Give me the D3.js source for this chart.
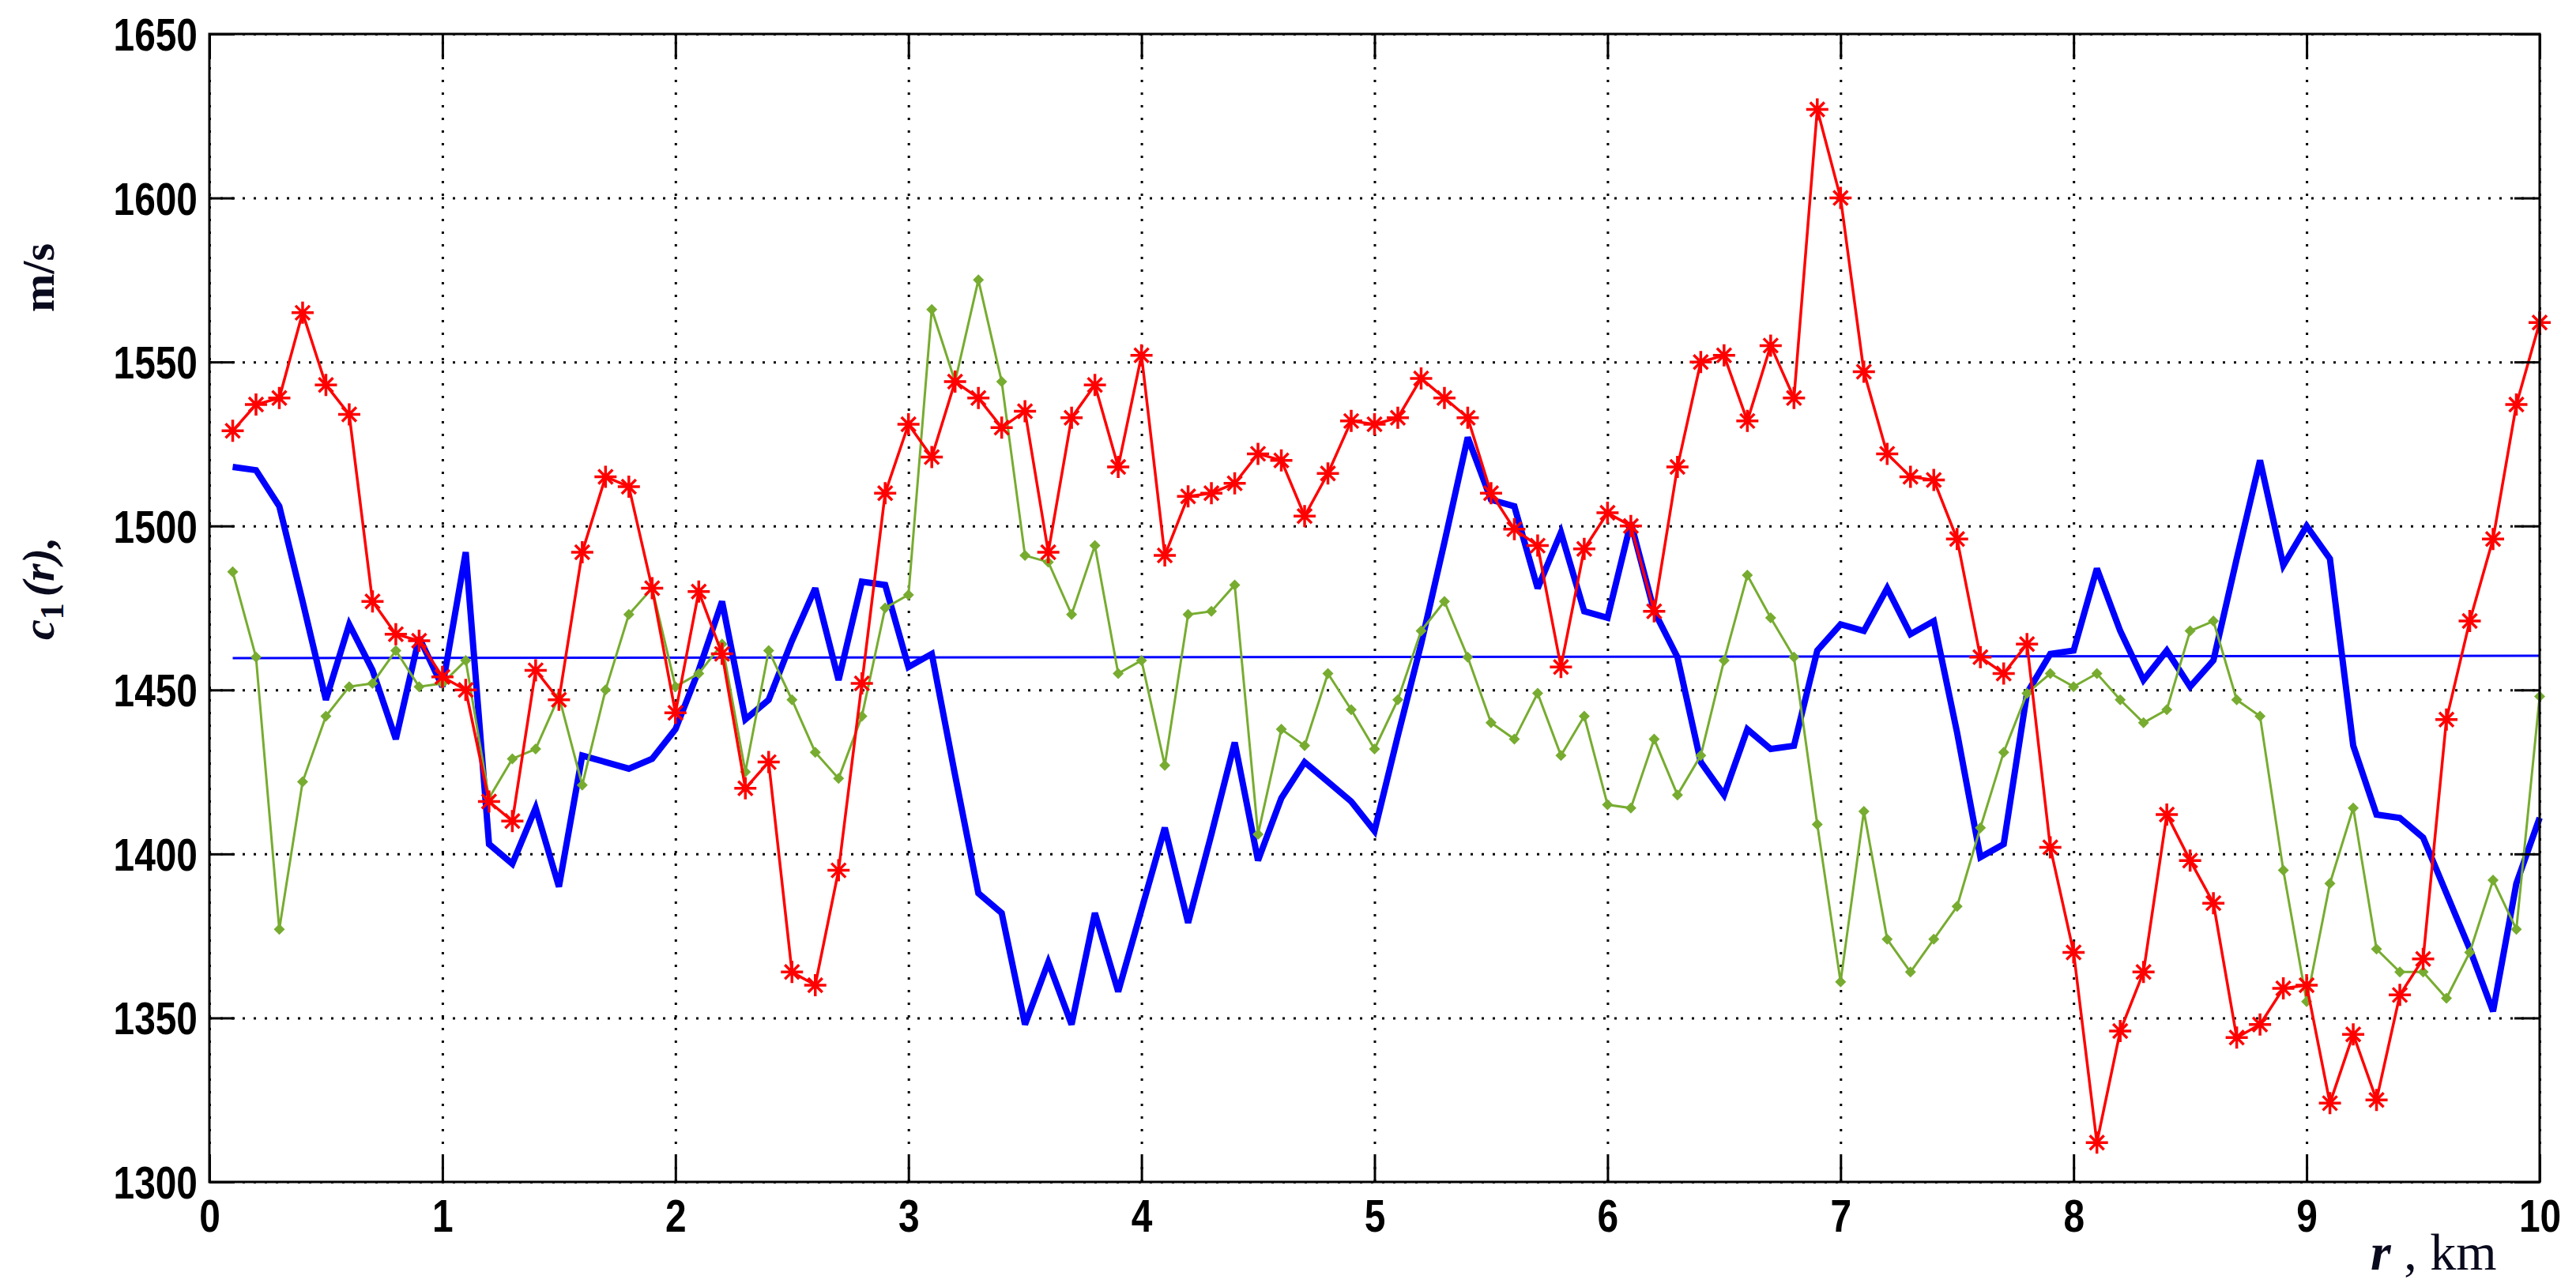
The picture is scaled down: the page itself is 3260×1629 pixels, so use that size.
<!DOCTYPE html>
<html><head><meta charset="utf-8">
<script src="https://cdn.jsdelivr.net/npm/d3@7"></script>
<style>html,body{margin:0;padding:0;background:#fff;}svg{display:block;}</style>
</head><body>
<script>
// ---- data ----
const rKm = [0.1,0.2,0.3,0.4,0.5,0.6,0.7,0.8,0.9,1.0,1.1,1.2,1.3,1.4,1.5,1.6,1.7,1.8,1.9,2.0,
 2.1,2.2,2.3,2.4,2.5,2.6,2.7,2.8,2.9,3.0,3.1,3.2,3.3,3.4,3.5,3.6,3.7,3.8,3.9,4.0,
 4.1,4.2,4.3,4.4,4.5,4.6,4.7,4.8,4.9,5.0,5.1,5.2,5.3,5.4,5.5,5.6,5.7,5.8,5.9,6.0,
 6.1,6.2,6.3,6.4,6.5,6.6,6.7,6.8,6.9,7.0,7.1,7.2,7.3,7.4,7.5,7.6,7.7,7.8,7.9,8.0,
 8.1,8.2,8.3,8.4,8.5,8.6,8.7,8.8,8.9,9.0,9.1,9.2,9.3,9.4,9.5,9.6,9.7,9.8,9.9,10.0];

const redC = [1529,1537,1539,1565,1543,1534,1477,1467,1465,1454,1450,1416,1410,1456,1447,1492,1515,1512,1481,1443,
 1480,1461,1420,1428,1364,1360,1395,1452,1510,1531,1521,1544,1539,1530,1535,1492,1533,1543,1518,1552,
 1491,1509,1510,1513,1522,1520,1503,1516,1532,1531,1533,1545,1539,1533,1510,1499,1494,1457,1493,1504,
 1500,1474,1518,1550,1552,1532,1555,1539,1627,1600,1547,1522,1515,1514,1496,1460,1455,1464,1402,1370,
 1312,1346,1364,1412,1398,1385,1344,1348,1359,1360,1324,1345,1325,1357,1368,1441,1471,1496,1537,1562];

const greenC = [1486,1460,1377,1422,1442,1451,1452,1462,1451,1452,1459,1417,1429,1432,1448,1421,1450,1473,1481,1451,
 1455,1464,1425,1462,1447,1431,1423,1442,1475,1479,1566,1544,1575,1544,1491,1489,1473,1494,1455,1459,
 1427,1473,1474,1482,1406,1438,1433,1455,1444,1432,1447,1468,1477,1460,1440,1435,1449,1430,1442,1415,
 1414,1435,1418,1430,1459,1485,1472,1460,1409,1361,1413,1374,1364,1374,1384,1408,1431,1449,1455,1451,
 1455,1447,1440,1444,1468,1471,1447,1442,1395,1355,1391,1414,1371,1364,1364,1356,1370,1392,1377,1448];

const blueC = [1518,1517,1506,1477,1447,1470,1456,1435,1466,1451,1492,1403,1397,1414,1390,1430,1428,1426,1429,1438,
 1456,1477,1441,1447,1465,1481,1453,1483,1482,1457,1461,1424,1388,1382,1348,1367,1348,1382,1358,1383,
 1408,1379,1406,1434,1398,1417,1428,1422,1416,1407,1436,1464,1495,1527,1508,1506,1481,1498,1474,1472,
 1501,1474,1460,1428,1418,1438,1432,1433,1462,1470,1468,1481,1467,1471,1437,1399,1403,1449,1461,1462,
 1487,1468,1453,1462,1451,1459,1490,1520,1488,1500,1490,1433,1412,1411,1405,1388,1371,1352,1391,1411];

const meanR = [0.1, 10.0];
const meanC = [1459.7, 1460.4];

const xTicks = [0,1,2,3,4,5,6,7,8,9,10];
const yTicks = [1300,1350,1400,1450,1500,1550,1600,1650];

// ---- layout ----
const W = 3260, H = 1629;
const L = 265, R = 3214, T = 43, B = 1496;

const svg = d3.select("body").append("svg").attr("width", W).attr("height", H);

const x = d3.scaleLinear().domain([0, 10]).range([L, R]);
const y = d3.scaleLinear().domain([1300, 1650]).range([B, T]);

// grid (dotted)
const gridV = svg.append("g").attr("transform", `translate(0,${B})`)
  .call(d3.axisBottom(x).tickValues(xTicks).tickSize(-(B - T)).tickFormat(""));
gridV.select(".domain").remove();
gridV.selectAll("line").attr("stroke", "#000").attr("stroke-width", 3).attr("stroke-dasharray", "3,13");

const gridH = svg.append("g").attr("transform", `translate(${L},0)`)
  .call(d3.axisLeft(y).tickValues(yTicks).tickSize(-(R - L)).tickFormat(""));
gridH.select(".domain").remove();
gridH.selectAll("line").attr("stroke", "#000").attr("stroke-width", 3).attr("stroke-dasharray", "3,11");

// data lines
const pts = (vals, xs) => vals.map((v, i) => [xs[i], v]);
const line = d3.line().x(d => x(d[0])).y(d => y(d[1]));

svg.append("path").datum(pts(meanC, meanR)).attr("d", line)
  .attr("fill", "none").attr("stroke", "#0000ff").attr("stroke-width", 3);

svg.append("path").datum(pts(blueC, rKm)).attr("d", line)
  .attr("fill", "none").attr("stroke", "#0000ff").attr("stroke-width", 8).attr("stroke-linejoin", "miter").attr("stroke-miterlimit", 3);

svg.append("path").datum(pts(greenC, rKm)).attr("d", line)
  .attr("fill", "none").attr("stroke", "#77ac30").attr("stroke-width", 3);
svg.append("g").selectAll("path").data(pts(greenC, rKm)).join("path")
  .attr("transform", d => `translate(${x(d[0])},${y(d[1])})`)
  .attr("d", "M0,-7L7,0L0,7L-7,0Z")
  .attr("fill", "#77ac30");

svg.append("path").datum(pts(redC, rKm)).attr("d", line)
  .attr("fill", "none").attr("stroke", "#ff0000").attr("stroke-width", 3.5);
svg.append("g").selectAll("path").data(pts(redC, rKm)).join("path")
  .attr("transform", d => `translate(${x(d[0])},${y(d[1])})`)
  .attr("d", "M-14,0L14,0M0,-14L0,14M-9,-9L9,9M-9,9L9,-9")
  .attr("stroke", "#ff0000").attr("stroke-width", 3.5).attr("fill", "none");

// box
svg.append("rect").attr("x", L).attr("y", T).attr("width", R - L).attr("height", B - T)
  .attr("fill", "none").attr("stroke", "#000").attr("stroke-width", 3);

// axes with inward ticks
const tk = 32;
const fontTick = "'Liberation Sans', Arial, sans-serif";

const axB = svg.append("g").attr("transform", `translate(0,${B})`)
  .call(d3.axisBottom(x).tickValues(xTicks).tickSizeInner(-tk).tickSizeOuter(0).tickPadding(0));
axB.select(".domain").remove();
axB.selectAll("line").attr("stroke", "#000").attr("stroke-width", 3);
axB.selectAll("text").attr("y", 63).attr("dy", 0).attr("x", 0).attr("fill", "#000")
  .attr("font-family", fontTick).attr("font-weight", "bold").attr("font-size", 57)
  .attr("transform", "scale(0.84,1)");

const axT = svg.append("g").attr("transform", `translate(0,${T})`)
  .call(d3.axisTop(x).tickValues(xTicks).tickSizeInner(-tk).tickSizeOuter(0).tickFormat(""));
axT.select(".domain").remove();
axT.selectAll("line").attr("stroke", "#000").attr("stroke-width", 3);

const axL = svg.append("g").attr("transform", `translate(${L},0)`)
  .call(d3.axisLeft(y).tickValues(yTicks).tickSizeInner(-tk).tickSizeOuter(0).tickPadding(0).tickFormat(d3.format("d")));
axL.select(".domain").remove();
axL.selectAll("line").attr("stroke", "#000").attr("stroke-width", 3);
axL.selectAll("text").attr("x", 0).attr("dy", "0.36em").attr("fill", "#000")
  .attr("font-family", fontTick).attr("font-weight", "bold").attr("font-size", 57)
  .attr("text-anchor", "end")
  .attr("transform", "translate(-15,0) scale(0.84,1)");

const axR = svg.append("g").attr("transform", `translate(${R},0)`)
  .call(d3.axisRight(y).tickValues(yTicks).tickSizeInner(-tk).tickSizeOuter(0).tickFormat(""));
axR.select(".domain").remove();
axR.selectAll("line").attr("stroke", "#000").attr("stroke-width", 3);

// axis titles
const serif = "'Liberation Serif', 'Times New Roman', serif";
const yl = svg.append("text").attr("transform", "translate(68,810) rotate(-90)")
  .attr("font-family", serif).attr("font-size", 58).attr("font-weight", "bold").attr("fill", "#0a0a1e");
yl.append("tspan").attr("font-style", "italic").text("c");
yl.append("tspan").attr("font-size", 42).attr("dy", 12).text("1");
yl.append("tspan").attr("font-style", "italic").attr("dy", -12).attr("dx", 8).text("(r),");
yl.append("tspan").attr("x", 415).text("m/s");

const xl = svg.append("text").attr("x", 3000).attr("y", 1607)
  .attr("font-family", serif).attr("font-size", 66).attr("fill", "#0a0a1e");
xl.append("tspan").attr("font-style", "italic").attr("font-weight", "bold").text("r");
xl.append("tspan").text(" , km");
</script>
</body></html>
